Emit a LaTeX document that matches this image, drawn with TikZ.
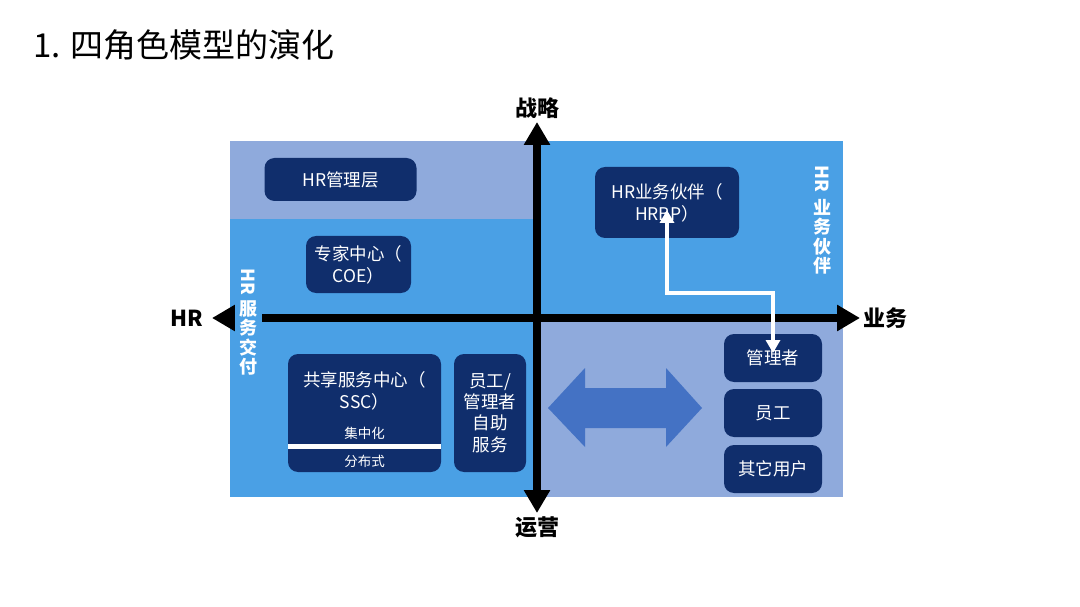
\documentclass[tikz,border=0pt]{standalone}
\usepackage{fontspec}
\setmainfont{Noto Sans CJK SC}
\usetikzlibrary{positioning}
\usetikzlibrary{arrows.meta}

\definecolor{skyblue}{RGB}{74,160,229}
\definecolor{paleblue}{RGB}{143,170,220}
\definecolor{navybox}{RGB}{16,46,108}
\definecolor{arrowblue}{RGB}{68,114,196}

\begin{document}
\begin{tikzpicture}
    [
    x=1pt, y=-1pt,
    every node/.style={inner sep=0pt},
    role/.style={fill=navybox, rounded corners=10pt, text=white, align=center, font=\fontsize{17.5}{22}\selectfont},
    roletext/.style={text=white, align=center, font=\fontsize{17.5}{22}\selectfont},
    smalltext/.style={text=white, font=\fontsize{13.5}{16}\selectfont},
    axis/.style={line width=8pt, {Triangle[length=23pt,width=25pt]}-{Triangle[length=23pt,width=25pt]}},
    axislabel/.style={font=\fontsize{22}{24}\selectfont\bfseries},
    sidelabel/.style={text=white, align=center, font=\fontsize{18}{19.5}\selectfont\bfseries},
    link/.style={white, line width=4pt, {Triangle[length=13pt,width=14pt]}-{Triangle[length=13pt,width=14pt]}},
    ]
    \useasboundingbox (0,0) rectangle (1080,607);

    \node[anchor=west, font=\fontsize{33}{40}\selectfont] (title) at (33,45) {1. 四角色模型的演化};

    % quadrants
    \fill[paleblue] (230,141) rectangle (537,219);
    \fill[skyblue] (230,219) rectangle (537,497);
    \fill[skyblue] (537,141) rectangle (843,318);
    \fill[paleblue] (537,318) rectangle (843,497);

    \fill[arrowblue] (548,408) -- (585,368) -- (585,388) -- (666,388) -- (666,368) -- (702,408)
        -- (666,447) -- (666,428) -- (585,428) -- (585,447) -- cycle;

    % axes
    \coordinate (hr_end) at (212,318);
    \coordinate (biz_end) at (860,318);
    \coordinate (strat_end) at (537,122);
    \coordinate (ops_end) at (537,513);
    \draw[axis] (hr_end) -- (biz_end);
    \draw[axis] (strat_end) -- (ops_end);

    \node[axislabel, left = 9pt of hr_end] (hr_label) {HR};
    \node[axislabel, right = 3pt of biz_end] (biz_label) {业务};
    \node[axislabel, above = 3pt of strat_end] (strat_label) {战略};
    \node[axislabel, below = 3pt of ops_end] (ops_label) {运营};

    \node[sidelabel, fill=skyblue, minimum width=27pt] (delivery) at (248.5,322) {\rotatebox{-90}{HR}\\[4pt]服\\务\\交\\付};
    \node[sidelabel] (partner) at (822,220) {\rotatebox{-90}{HR}\\[6pt]业\\务\\伙\\伴};

    % roles
    \node[role, minimum width=152pt, minimum height=43pt] (hr_mgmt) at (340.5,179.5) {HR管理层};
    \node[role, minimum width=105pt, minimum height=57pt] (coe) at (358.5,264.5) {专家中心（\\COE）};
    \node[role, minimum width=144pt, minimum height=71pt] (hrbp) at (667,202.5) {HR业务伙伴（\\HRBP）};
    \node[role, minimum width=153pt, minimum height=118pt] (ssc) at (364.5,413) {};
    \node[roletext] (ssc_name) at (364.5,391) {共享服务中心（\\SSC）};
    \node[smalltext] (central) at (364.5,433) {集中化};
    \node[smalltext] (spread) at (364.5,461) {分布式};
    \coordinate (split) at (364.5,446);
    \draw[white, line width=5pt] (ssc.west |- split) -- (ssc.east |- split);
    \node[role, minimum width=72pt, minimum height=118pt, font=\fontsize{17.5}{21.5}\selectfont] (self_service) at (490,413) {员工/\\管理者\\自助\\服务};

    \node[role, minimum width=98pt, minimum height=48pt] (manager) at (773,358) {管理者};
    \node[role, minimum width=98pt, minimum height=48pt] (staff) at (773,413) {员工};
    \node[role, minimum width=98pt, minimum height=48pt] (other_users) at (773,469) {其它用户};

    \coordinate (hrbp_tip) at (667,210);
    \coordinate (elbow) at (720,293);
    \coordinate (manager_tip) at (773,353);
    \draw[link] (hrbp_tip) |- (elbow) -| (manager_tip);
\end{tikzpicture}
\end{document}
